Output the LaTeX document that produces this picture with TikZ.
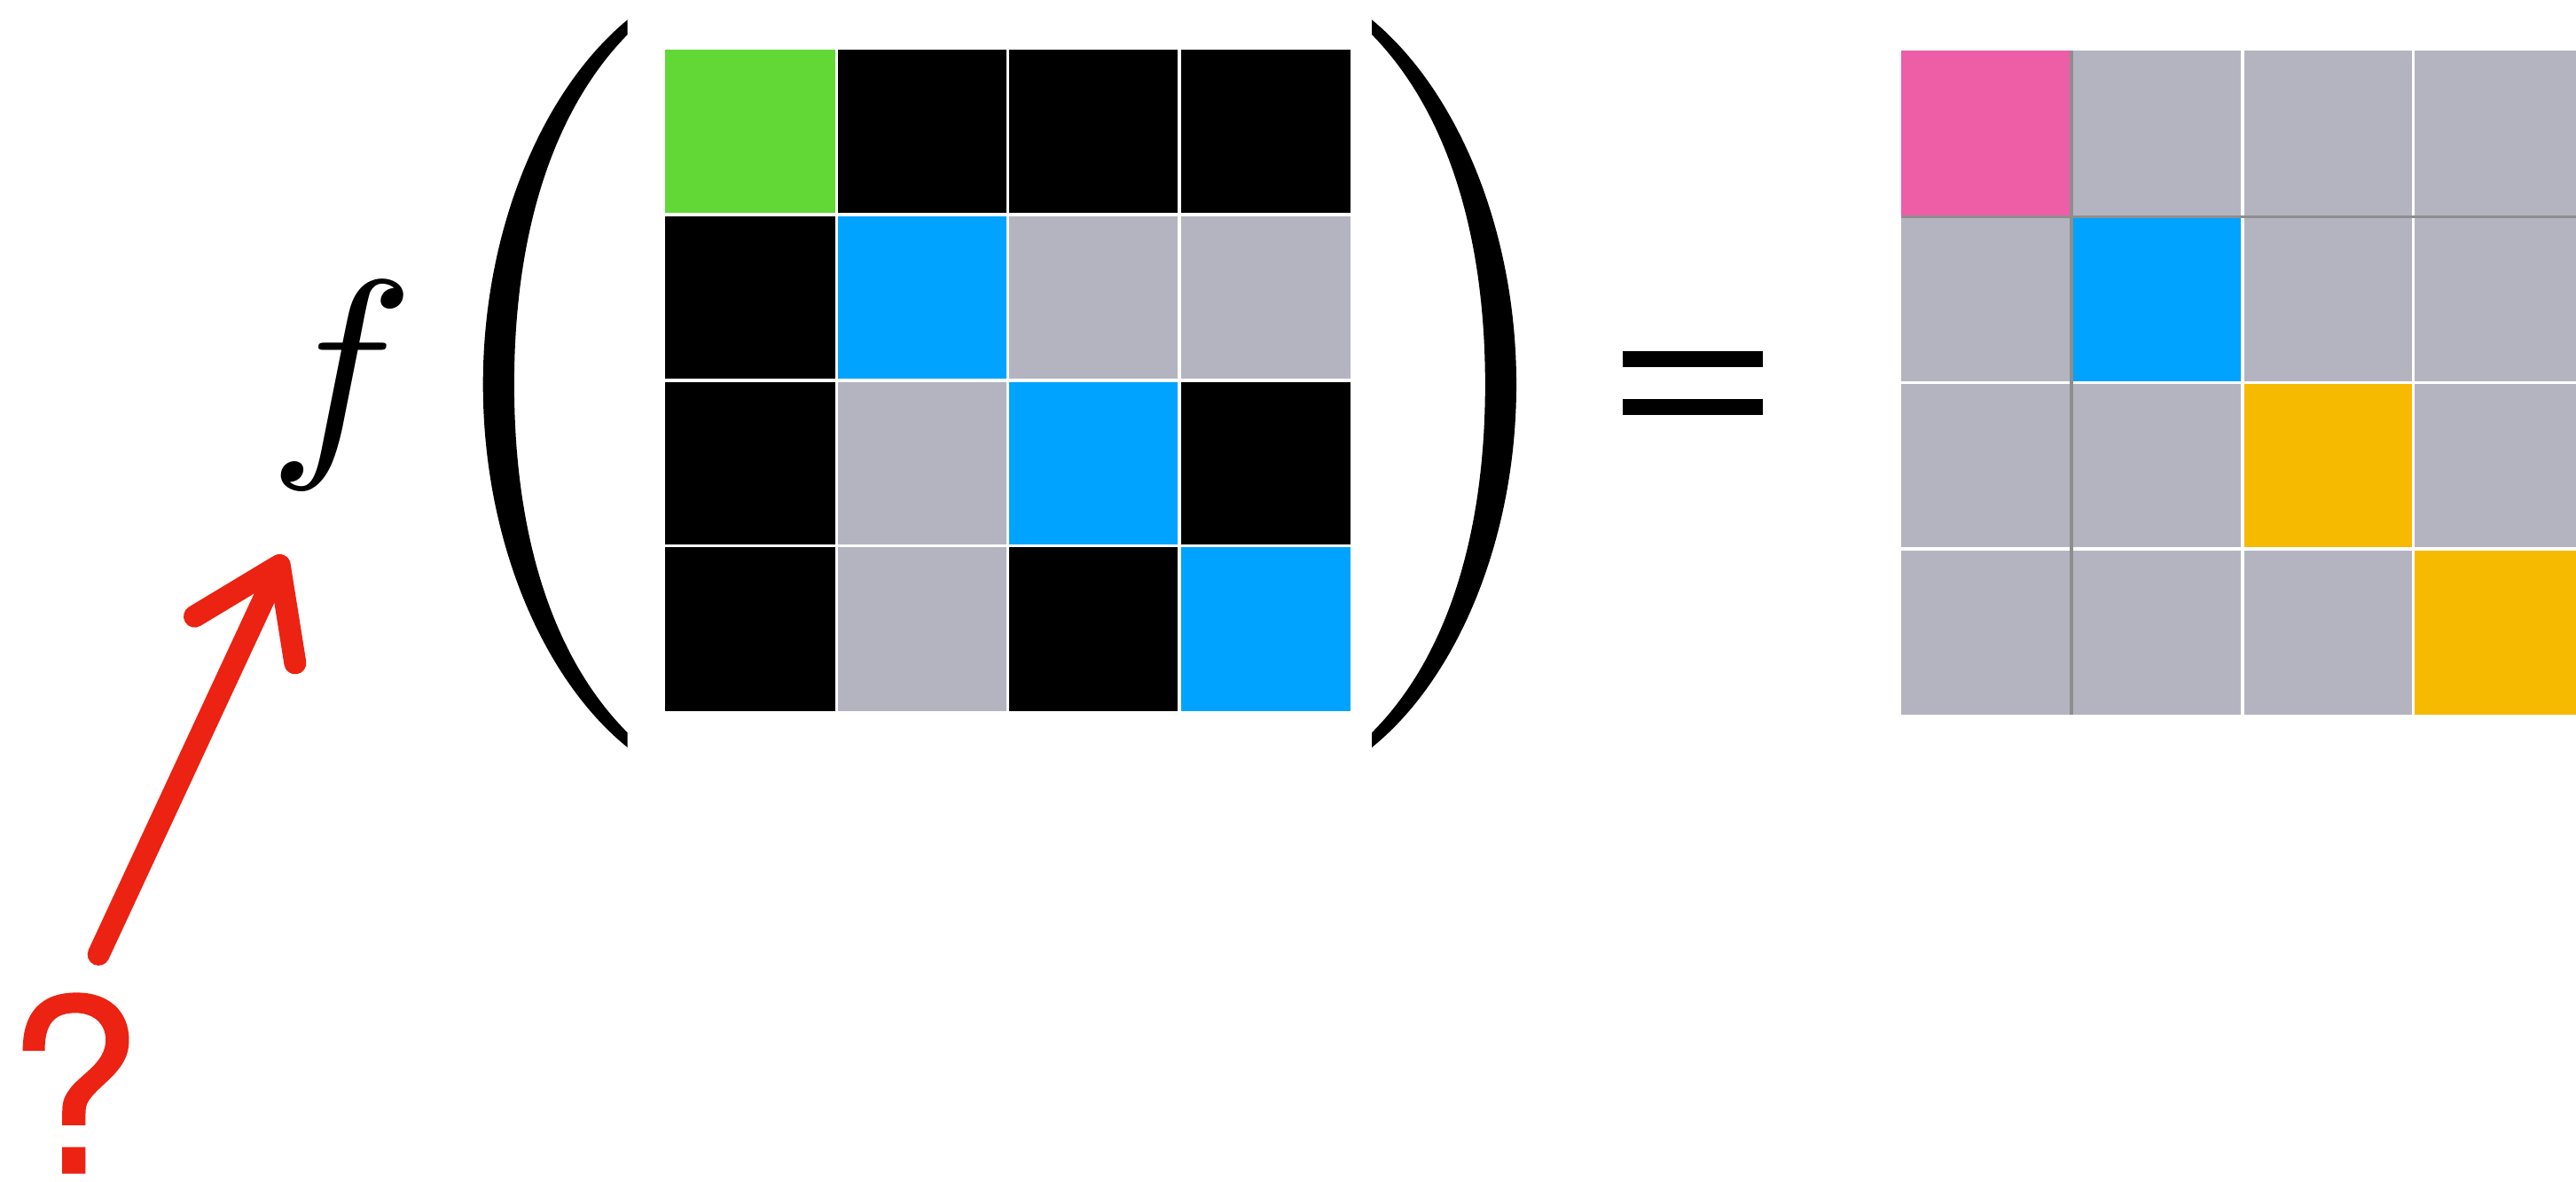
\documentclass[tikz,border=0pt]{standalone}
\usepackage{fontspec}
\usepackage{tikz}
\usetikzlibrary{arrows.meta,positioning}
\newfontfamily\qfont[FakeBold=0.6]{TeX Gyre Heros}
\definecolor{cellGreen}{RGB}{98,216,54}
\definecolor{cellBlue}{RGB}{0,163,255}
\definecolor{cellGray}{RGB}{180,180,193}
\definecolor{cellPink}{RGB}{238,94,166}
\definecolor{cellYellow}{RGB}{246,186,0}
\definecolor{lineGray}{RGB}{142,142,142}
\definecolor{markRed}{RGB}{236,34,18}

\tikzset{
  bigparen/.pic={
    \fill[black] (382,12) .. controls (330,55) and (294,140) .. (294,234)
      .. controls (294,328) and (330,413) .. (382,455) -- (382,446)
      .. controls (336,400) and (313,325) .. (313,234)
      .. controls (313,143) and (336,68) .. (382,21) -- cycle;
  },
  gridline/.style={white, line width=1.1pt},
  grayline/.style={lineGray, line width=1.1pt},
}

\begin{document}
\begin{tikzpicture}[x=0.02cm,y=-0.02cm]
    \useasboundingbox (0,0) rectangle (1568,719);

    % f and the brackets
    \node[xscale=8.5, yscale=8.1, inner sep=0, anchor=base] (fname) at (208,270) {$f$};
    \pic at (0,0) {bigparen};
    \pic[xscale=-1] at (1217,0) {bigparen};

    % Input grid
    \foreach \row/\cols in {0/{cellGreen,black,black,black},
                            1/{black,cellBlue,cellGray,cellGray},
                            2/{black,cellGray,cellBlue,black},
                            3/{black,cellGray,black,cellBlue}}
      \foreach \c [count=\col from 0] in \cols
        \fill[\c] ({405+\col*104.25},{30+\row*100.75}) rectangle ++(104.25,100.75);
    \foreach \k in {1,2,3} {
      \draw[gridline] ({405+\k*104.25},30) -- ++(0,403);
      \draw[gridline] (405,{30+\k*100.75}) -- ++(417,0);
    }

    % Equals
    \fill[black] (988,214) rectangle (1073,223.5);
    \fill[black] (988,243) rectangle (1073,252.5);

    % Output grid
    \foreach \row/\cols in {0/{cellPink,cellGray,cellGray,cellGray},
                            1/{cellGray,cellBlue,cellGray,cellGray},
                            2/{cellGray,cellGray,cellYellow,cellGray},
                            3/{cellGray,cellGray,cellGray,cellYellow}}
      \foreach \c [count=\col from 0] in \cols
        \fill[\c] ({1157+\col*104},{31+\row*101}) rectangle ++(104,101);
    \foreach \k in {2,3} {
      \draw[gridline] ({1157+\k*104},31) -- ++(0,404);
      \draw[gridline] (1157,{31+\k*101}) -- ++(420,0);
    }
    \draw[grayline] (1261,31) -- ++(0,404);
    \draw[grayline] (1157,132) -- ++(420,0);

    % Question
    \node[font=\qfont\fontsize{84}{90}\selectfont, text=markRed, inner sep=0, anchor=base] (qmark) at (45,714) {?};
    \coordinate (tail) at (60,581);
    \coordinate (tip) at (173,338);
    \draw[markRed, line width=0.27cm, line cap=round,
          -{Straight Barb[length=1.0cm,width=1.35cm,round]}] (tail) -- (tip);
\end{tikzpicture}
\end{document}
